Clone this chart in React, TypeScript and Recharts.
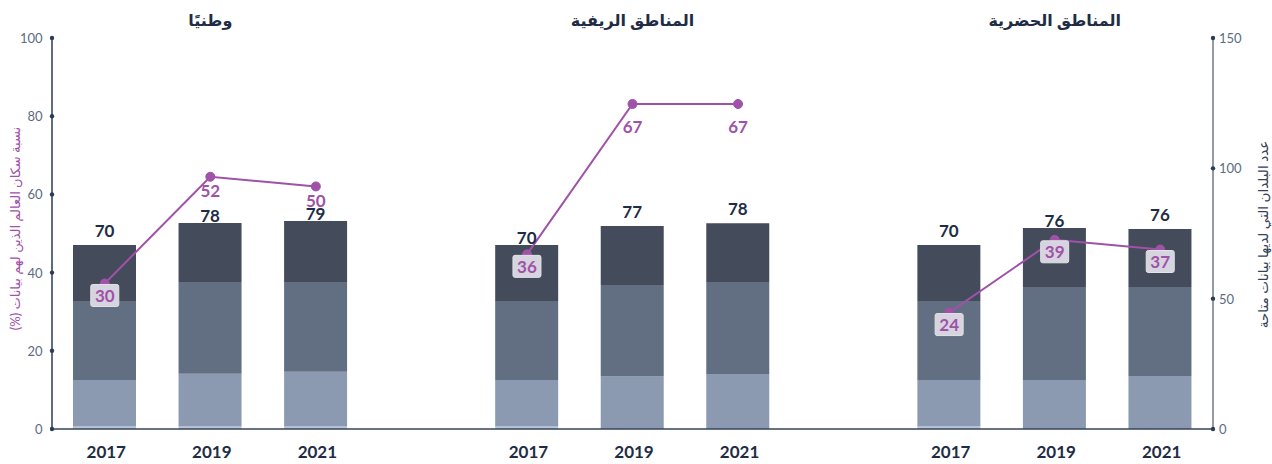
import React from 'react';
import { ComposedChart, Bar, Line, XAxis, YAxis, LabelList } from 'recharts';

const groupTitles = ['وطنيًا', 'المناطق الريفية', 'المناطق الحضرية'];
const years = ['2017', '2019', '2021'];

// stacked segments (number of countries), per bar: national, rural, urban x 2017/2019/2021
const segBase = [1, 1, 1, 1, 0, 0, 1, 0, 0];
const segLow = [17.8, 20.2, 21, 17.8, 20.1, 21.1, 17.8, 18.8, 20.3];
const segMid = [30.3, 35.2, 34.4, 30.3, 35.1, 35.3, 30.3, 35.7, 34.2];
const segTop = [21.5, 22.6, 23.4, 21.5, 22.7, 22.5, 21.5, 22.6, 22.2];
const countryCounts = [70, 78, 79, 70, 77, 78, 70, 76, 76];
const populationShare = [30, 52, 50, 36, 67, 67, 24, 39, 37];

const leftTicks = [0, 20, 40, 60, 80, 100];
const rightTicks = [0, 50, 100, 150];
const COUNT_MAX = 150;
const LINE_MAX = 80.6;

const leftAxisTitle = 'نسبة سكان العالم الذين لهم بيانات (%)';
const rightAxisTitle = 'عدد البلدان التي لديها بيانات متاحة';

type Row = {
  key: string;
  year: string;
  title: string;
  s0: number | null;
  s1: number | null;
  s2: number | null;
  s3: number | null;
  count: number | null;
  pct: number | null;
  barTop: number;
  inside: boolean;
  far: boolean;
};

const data: Row[] = [];
groupTitles.forEach((title, g) => {
  if (g > 0) {
    data.push({ key: 'gap' + g, year: '', title: '', s0: null, s1: null, s2: null, s3: null, count: null, pct: null, barTop: 0, inside: false, far: false });
  }
  years.forEach((year, j) => {
    const i = g * 3 + j;
    const barTop = segBase[i] + segLow[i] + segMid[i] + segTop[i];
    const diff = populationShare[i] / LINE_MAX - barTop / COUNT_MAX;
    data.push({
      key: g + '-' + year,
      year,
      title: j === 1 ? title : '',
      s0: segBase[i],
      s1: segLow[i],
      s2: segMid[i],
      s3: segTop[i],
      count: countryCounts[i],
      pct: populationShare[i],
      barTop,
      inside: diff < 0,
      far: diff > 0.2,
    });
  });
});

const FONT = "Lato, 'DejaVu Sans', sans-serif";
const NAVY = '#1e2d45';
const PURPLE = '#a052a8';
const TICK = '#5b6b82';
const LINE_LABEL_GAP = 14;

const LeftTick = (props: any) => {
  const { x, y, payload } = props;
  return (
    <g>
      <circle cx={x} cy={y} r={2.2} fill="#2d3b55" />
      <text x={x - 9.5} y={y} textAnchor="end" dominantBaseline="central" fontSize={13} fill={TICK} fontFamily={FONT}>
        {payload.value}
      </text>
    </g>
  );
};

const RightTick = (props: any) => {
  const { x, y, payload } = props;
  return (
    <g>
      <circle cx={x} cy={y} r={2.2} fill="#2d3b55" />
      <text x={x + 6} y={y} textAnchor="start" dominantBaseline="central" fontSize={13} fill={TICK} fontFamily={FONT}>
        {payload.value}
      </text>
    </g>
  );
};

const BottomTick = (props: any) => {
  const { x, y, index } = props;
  const row = data[index];
  if (!row || !row.year) return null;
  return (
    <text x={x + 1.5} y={y + 29} textAnchor="middle" fontSize={17} fontWeight={700} fill={NAVY} fontFamily={FONT}>
      {row.year}
    </text>
  );
};

const TopTick = (props: any) => {
  const { x, y, index } = props;
  const row = data[index];
  if (!row || !row.title) return null;
  return (
    <text x={x} y={y - 12} textAnchor="middle" fontSize={16} fontWeight={700} fill={NAVY} fontFamily={FONT} direction="rtl">
      {row.title}
    </text>
  );
};

const LineLabel = (props: any) => {
  const { x, y, index, value } = props;
  if (value == null) return null;
  const row = data[index];
  const boxed = row && row.inside;
  const cy = boxed ? y + 12 : y + (row && row.far ? 23 : LINE_LABEL_GAP);
  return (
    <g>
      {boxed && (
        <rect x={x - 14} y={cy - 11} width={28} height={22} rx={2} fill="#d5d4df" stroke="#e4e3ea" strokeWidth={1} />
      )}
      <text x={x} y={cy} textAnchor="middle" dominantBaseline="central" fontSize={17} fontWeight={700} fill={PURPLE} fontFamily={FONT}>
        {value}
      </text>
    </g>
  );
};

// bar total label: sits a little higher, unless the line's label is just above the bar
const BarTotalLabel = (props: any) => {
  const { viewBox, index, value } = props;
  if (value == null || !viewBox) return null;
  const row = data[index];
  const { x, y, width } = viewBox;
  let offset = 8;
  if (row && !row.inside && !row.far) offset = 1;
  return (
    <text x={x + width / 2} y={y - offset} textAnchor="middle" fontSize={17} fontWeight={700} fill={NAVY} fontFamily={FONT}>
      {value}
    </text>
  );
};

const LeftAxisLabel = (props: any) => {
  const { viewBox } = props;
  const cx = viewBox.x + 15;
  const cy = viewBox.y + viewBox.height / 2 - 5;
  return (
    <text x={cx} y={cy} transform={`rotate(-90, ${cx}, ${cy})`} textAnchor="middle" dominantBaseline="central" fontSize={13} fill={PURPLE} fontFamily={FONT} direction="rtl">
      {leftAxisTitle}
    </text>
  );
};

const RightAxisLabel = (props: any) => {
  const { viewBox } = props;
  const cx = viewBox.x + 50;
  const cy = viewBox.y + viewBox.height / 2 + 1;
  return (
    <text x={cx} y={cy} transform={`rotate(-90, ${cx}, ${cy})`} textAnchor="middle" dominantBaseline="central" fontSize={13.5} fill="#34435a" fontFamily={FONT} direction="rtl">
      {rightAxisTitle}
    </text>
  );
};

export default function App() {
  return (
    <div style={{ position: 'absolute', left: 0, top: 0, background: '#fff' }}>
      <ComposedChart width={1272} height={464} data={data} margin={{ top: 0, right: 0, bottom: 0, left: 0 }} barCategoryGap={0}>
        <XAxis
          xAxisId="bottom"
          dataKey="key"
          orientation="bottom"
          height={35}
          interval={0}
          tickLine={false}
          tickSize={0}
          tickMargin={0}
          axisLine={{ stroke: '#34435a', strokeWidth: 1.5 }}
          tick={<BottomTick />}
        />
        <XAxis
          xAxisId="top"
          dataKey="key"
          orientation="top"
          height={38}
          interval={0}
          tickLine={false}
          tickSize={0}
          tickMargin={0}
          axisLine={false}
          tick={<TopTick />}
        />
        <YAxis
          yAxisId="left"
          orientation="left"
          type="number"
          width={52}
          domain={[0, 100]}
          allowDataOverflow
          ticks={leftTicks}
          interval={0}
          tickLine={false}
          tickSize={0}
          tickMargin={0}
          axisLine={{ stroke: '#2d3b55', strokeWidth: 1.5 }}
          tick={<LeftTick />}
          label={<LeftAxisLabel />}
        />
        <YAxis
          yAxisId="right"
          orientation="right"
          type="number"
          width={59}
          domain={[0, COUNT_MAX]}
          allowDataOverflow
          ticks={rightTicks}
          interval={0}
          tickLine={false}
          tickSize={0}
          tickMargin={0}
          axisLine={{ stroke: '#4a5870', strokeWidth: 1.2 }}
          tick={<RightTick />}
          label={<RightAxisLabel />}
        />
        <YAxis yAxisId="line" hide type="number" domain={[0, LINE_MAX]} allowDataOverflow />
        <Bar xAxisId="bottom" yAxisId="right" dataKey="s0" stackId="a" fill="#b9c6d9" barSize={63} isAnimationActive={false} />
        <Bar xAxisId="bottom" yAxisId="right" dataKey="s1" stackId="a" fill="#8b9ab1" barSize={63} isAnimationActive={false} />
        <Bar xAxisId="bottom" yAxisId="right" dataKey="s2" stackId="a" fill="#626e81" barSize={63} isAnimationActive={false} />
        <Bar xAxisId="bottom" yAxisId="right" dataKey="s3" stackId="a" fill="#444b5b" barSize={63} isAnimationActive={false}>
          <LabelList dataKey="count" content={<BarTotalLabel />} />
        </Bar>
        <Line
          xAxisId="bottom"
          yAxisId="line"
          dataKey="pct"
          stroke={PURPLE}
          strokeWidth={2}
          dot={{ r: 4.5, fill: PURPLE, stroke: PURPLE, strokeWidth: 1 }}
          activeDot={false}
          connectNulls={false}
          isAnimationActive={false}
          label={<LineLabel />}
        />
      </ComposedChart>
    </div>
  );
}
